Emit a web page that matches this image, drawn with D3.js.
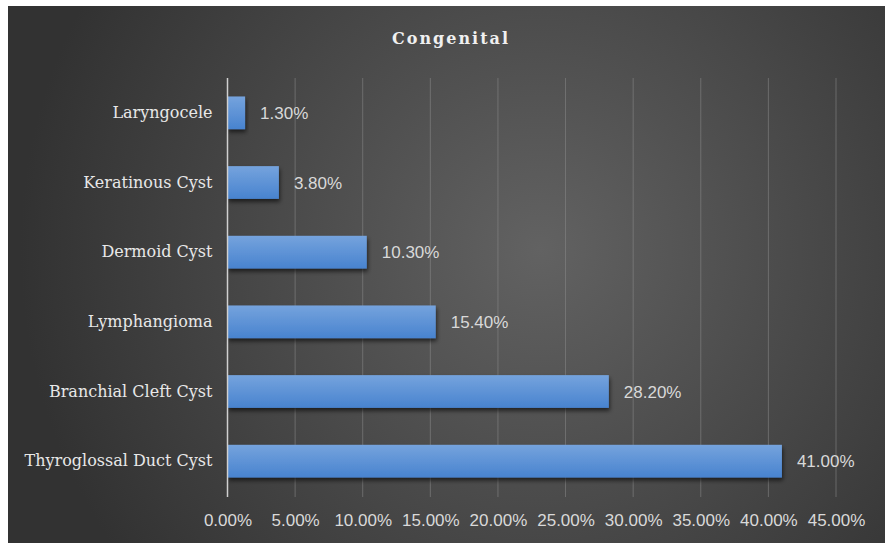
<!DOCTYPE html>
<html lang="en">
<head>
    <meta charset="UTF-8">
    <title>Congenital</title>
    <script src="https://d3js.org/d3.v7.min.js" charset="utf-8"></script>
    <style>
        body { margin: 0; background: #fff; }
        svg { display: block; }
        .cat { font-family: 'DejaVu Serif', serif; fill: #e8e8e8; }
        .num { font-family: 'Liberation Sans', 'Noto Sans', sans-serif; fill: #d9d9d9; }
    </style>
</head>
<body>
    <div id="chart"></div>
    <script>
        // values
        var categories = ['Laryngocele', 'Keratinous Cyst', 'Dermoid Cyst', 'Lymphangioma', 'Branchial Cleft Cyst', 'Thyroglossal Duct Cyst'];
        var values = [1.3, 3.8, 10.3, 15.4, 28.2, 41.0];
        var ticks = [0, 5, 10, 15, 20, 25, 30, 35, 40, 45];

        var width = 885, height = 543;
        var plotLeft = 227.5, plotRight = 836, plotTop = 78, plotBottom = 496;

        var svg = d3.select('#chart').append('svg')
            .attr('width', width)
            .attr('height', height);

        var defs = svg.append('defs');

        var bg = defs.append('radialGradient')
            .attr('id', 'bg')
            .attr('gradientUnits', 'userSpaceOnUse')
            .attr('cx', 540).attr('cy', 250).attr('r', 520);
        bg.append('stop').attr('offset', '0%').attr('stop-color', '#626262');
        bg.append('stop').attr('offset', '100%').attr('stop-color', '#323232');

        var barGrad = defs.append('linearGradient')
            .attr('id', 'bar')
            .attr('x1', 0).attr('y1', 0).attr('x2', 0).attr('y2', 1);
        barGrad.append('stop').attr('offset', '0%').attr('stop-color', '#75a3dd');
        barGrad.append('stop').attr('offset', '100%').attr('stop-color', '#4883cf');

        var shadow = defs.append('filter')
            .attr('id', 'shadow')
            .attr('x', '-10%').attr('y', '-20%').attr('width', '130%').attr('height', '160%');
        shadow.append('feDropShadow')
            .attr('dx', 1).attr('dy', 3).attr('stdDeviation', 2)
            .attr('flood-color', '#000').attr('flood-opacity', 0.6);

        // background
        svg.append('rect')
            .attr('x', 8).attr('y', 6)
            .attr('width', width - 8).attr('height', height - 6)
            .attr('fill', 'url(#bg)');

        // title
        svg.append('text')
            .attr('x', 451)
            .attr('y', 44)
            .attr('text-anchor', 'middle')
            .style('font-family', 'DejaVu Serif')
            .style('font-weight', 'bold')
            .style('font-size', '16px')
            .style('letter-spacing', '2px')
            .style('fill', '#f0f0f0')
            .text('Congenital');

        // scales
        var x_scale = d3.scaleLinear()
            .domain([0, 45])
            .range([plotLeft, plotRight]);

        var y_scale = d3.scaleBand()
            .domain(categories)
            .range([plotTop, plotBottom])
            .paddingInner(0.53)
            .paddingOuter(0.265);

        // gridlines
        svg.append('g')
            .selectAll('line')
            .data(ticks.slice(1))
            .join('line')
            .attr('x1', d => x_scale(d)).attr('x2', d => x_scale(d))
            .attr('y1', plotTop).attr('y2', plotBottom + 1)
            .attr('stroke', '#8a8a8a')
            .attr('stroke-opacity', 0.55)
            .attr('stroke-width', 1);

        // bars
        svg.append('g')
            .selectAll('rect')
            .data(values)
            .join('rect')
            .attr('x', x_scale(0))
            .attr('y', (d, i) => y_scale(categories[i]))
            .attr('width', d => x_scale(d) - x_scale(0))
            .attr('height', y_scale.bandwidth())
            .attr('fill', 'url(#bar)')
            .attr('filter', 'url(#shadow)');

        // value axis line
        svg.append('line')
            .attr('x1', x_scale(0)).attr('x2', x_scale(0))
            .attr('y1', plotTop).attr('y2', plotBottom + 1)
            .attr('stroke', '#d0d0d0')
            .attr('stroke-width', 1.5);

        // data labels
        svg.append('g')
            .selectAll('text')
            .data(values)
            .join('text')
            .attr('class', 'num')
            .attr('x', d => x_scale(d) + 15)
            .attr('y', (d, i) => y_scale(categories[i]) + y_scale.bandwidth() / 2)
            .attr('dy', '0.36em')
            .style('font-size', '17px')
            .text(d => d.toFixed(2) + '%');

        // category axis
        var yAxis = svg.append('g')
            .attr('transform', 'translate(' + (plotLeft - 15) + ', 0)')
            .call(d3.axisLeft(y_scale).tickSize(0).tickPadding(0));
        yAxis.select('.domain').remove();
        yAxis.selectAll('text')
            .attr('class', 'cat')
            .attr('fill', null)
            .style('font-size', '16px');

        // value axis
        var xAxis = svg.append('g')
            .attr('transform', 'translate(0, ' + plotBottom + ')')
            .call(d3.axisBottom(x_scale).tickValues(ticks).tickSize(0).tickPadding(30)
                .tickFormat(d => d.toFixed(2) + '%'));
        xAxis.select('.domain').remove();
        xAxis.selectAll('text')
            .attr('class', 'num')
            .attr('fill', null)
            .attr('dy', 0)
            .style('font-size', '17px');
    </script>
</body>
</html>
